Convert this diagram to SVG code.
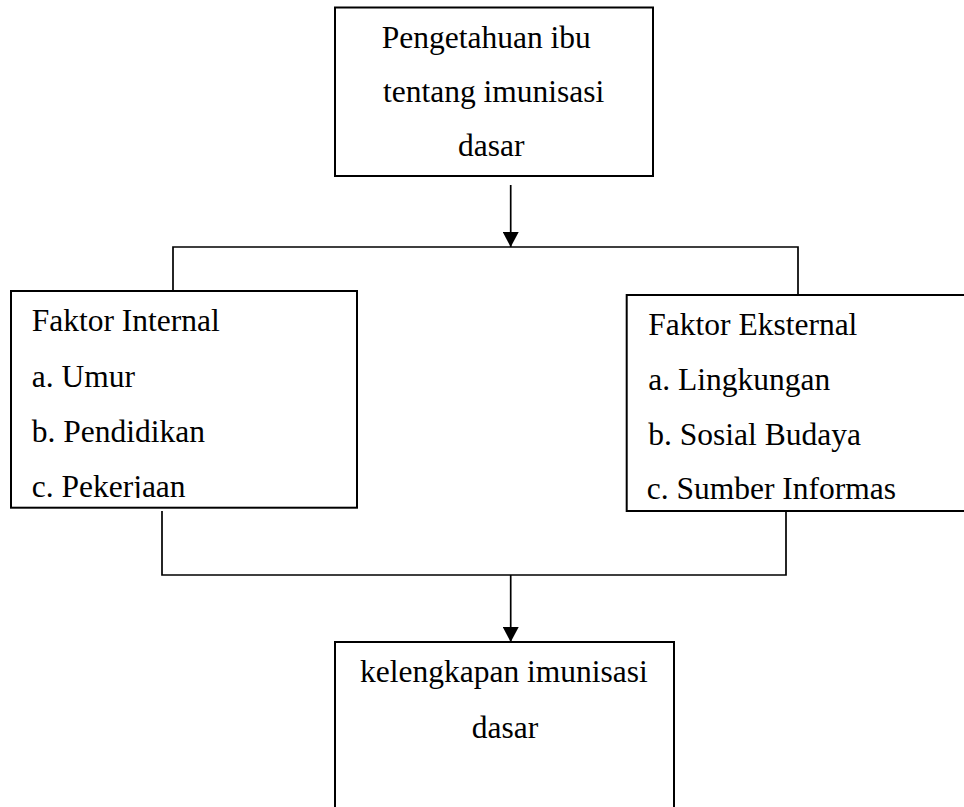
<svg xmlns="http://www.w3.org/2000/svg" width="964" height="807" viewBox="0 0 964 807">
<style>
.box{fill:#fff;stroke:#000;stroke-width:2}
.ln{fill:none;stroke:#000;stroke-width:1.7}
text{font-family:"Liberation Serif","Times New Roman",serif;font-size:31.5px;fill:#000}
</style>
<defs>
<marker id="ah" markerWidth="15" markerHeight="16" refX="15" refY="8" orient="auto" markerUnits="userSpaceOnUse" viewBox="0 0 15 16">
<path d="M0,0 L15,8 L0,16 Z" fill="#000"/>
</marker>
<clipPath id="clipL"><rect x="11" y="291" width="346" height="207"/></clipPath>
</defs>
<rect width="964" height="807" fill="#fff"/>
<g id="connectors">
<line class="ln" x1="510.7" y1="185" x2="510.7" y2="247" marker-end="url(#ah)"/>
<polyline class="ln" points="173,291 173,247 798,247 798,295"/>
<polyline class="ln" points="162,511 162,575 786,575 786,511"/>
<line class="ln" x1="510.7" y1="575" x2="510.7" y2="642" marker-end="url(#ah)"/>
</g>
<g id="node-pengetahuan">
<rect class="box" x="335" y="7.5" width="318" height="168.5"/>
<text x="381.7" y="48">Pengetahuan ibu</text>
<text x="383" y="102">tentang imunisasi</text>
<text x="458" y="156">dasar</text>
</g>
<g id="node-internal">
<rect class="box" x="11" y="291" width="346" height="216.7"/>
<g clip-path="url(#clipL)">
<text x="31.7" y="331">Faktor Internal</text>
<text x="31.7" y="386.5">a. Umur</text>
<text x="31.7" y="441.5">b. Pendidikan</text>
<text x="31.7" y="497">c. Pekerjaan</text>
</g>
</g>
<g id="node-eksternal">
<rect class="box" x="626.7" y="295" width="345" height="216"/>
<text x="648.3" y="335">Faktor Eksternal</text>
<text x="648.3" y="390">a. Lingkungan</text>
<text x="648.3" y="445">b. Sosial Budaya</text>
<text x="646.7" y="499">c. Sumber Informas</text>
</g>
<g id="node-kelengkapan">
<rect class="box" x="335" y="642" width="339" height="180"/>
<text x="360" y="681.5">kelengkapan imunisasi</text>
<text x="471.7" y="738">dasar</text>
</g>
</svg>
